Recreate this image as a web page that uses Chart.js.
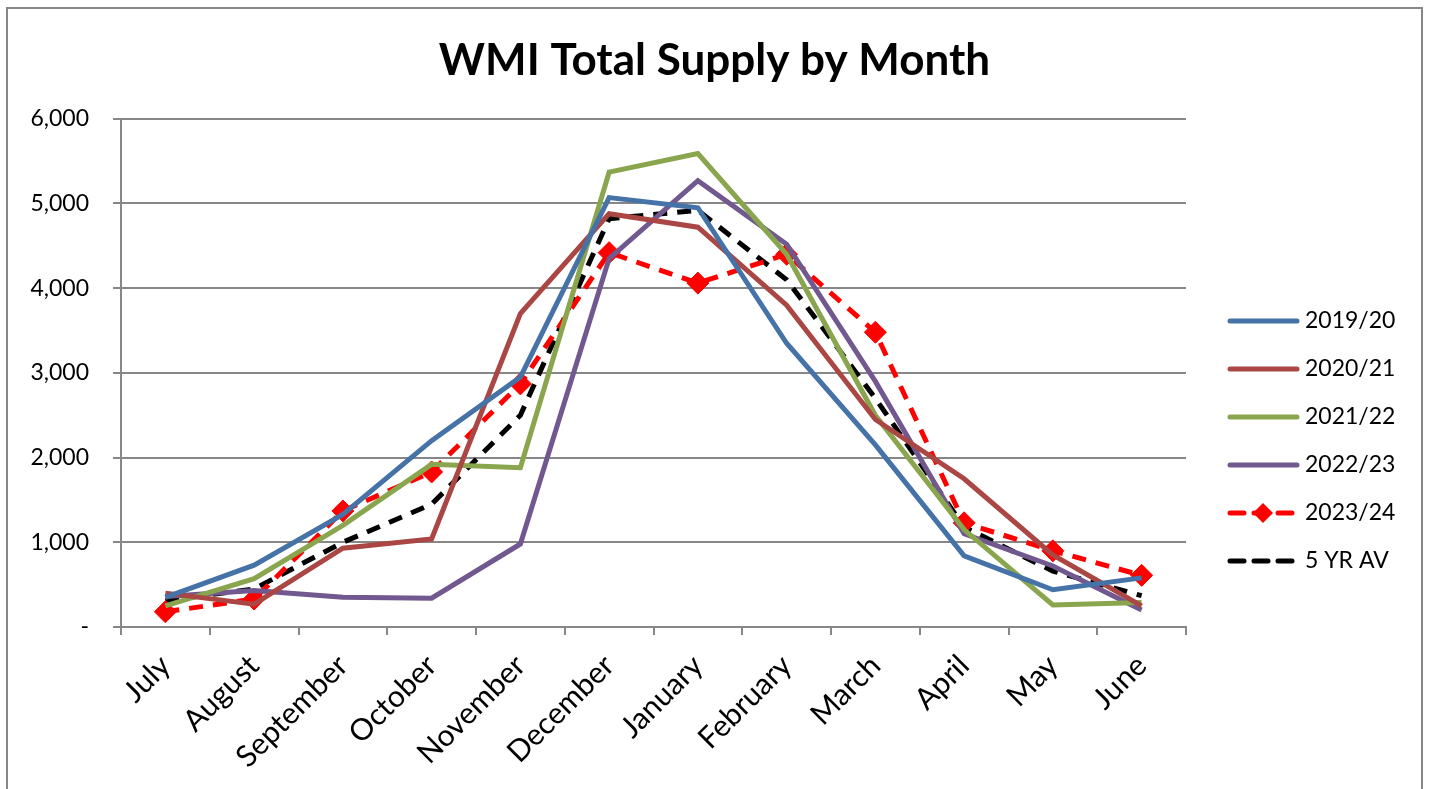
<!DOCTYPE html>
<html>
<head>
<meta charset="utf-8">
<script src="https://cdn.jsdelivr.net/npm/chart.js@4.4.0/dist/chart.umd.min.js"></script>
<style>
  body { margin: 0; background: #fff; }
  #wrap { width: 1429px; height: 789px; position: relative; }
</style>
</head>
<body>
<div id="wrap"><canvas id="supplyChart"></canvas></div>
<script>
// months along the x axis
const months = ['July', 'August', 'September', 'October', 'November', 'December',
                'January', 'February', 'March', 'April', 'May', 'June'];

// series
const s1920 = [350, 730, 1330, 2200, 2950, 5070, 4950, 3350, 2150, 840, 440, 580];
const s2021 = [400, 270, 930, 1040, 3700, 4880, 4720, 3800, 2450, 1750, 850, 250];
const s2122 = [250, 570, 1200, 1920, 1880, 5370, 5590, 4400, 2500, 1150, 260, 290];
const s2223 = [360, 430, 350, 340, 980, 4350, 5270, 4520, 2900, 1100, 720, 200];
const s2324 = [180, 330, 1370, 1830, 2870, 4420, 4060, 4400, 3480, 1230, 900, 610];
const fiveYr = [310, 450, 1000, 1450, 2500, 4820, 4920, 4100, 2700, 1180, 660, 370];

const yTicks = [0, 1000, 2000, 3000, 4000, 5000, 6000];

const FONT = "Lato, 'Open Sans', sans-serif";
const GRAY = '#878787';

// legend drawn by hand to match the excel look
const legendBox = {
  id: 'legendBox',
  afterDraw(chart) {
    const ctx = chart.ctx;
    const sets = chart.data.datasets;
    let y = 321;
    ctx.save();
    sets.forEach(ds => {
      ctx.lineWidth = ds.borderWidth;
      ctx.strokeStyle = ds.borderColor;
      ctx.lineCap = 'round';
      ctx.setLineDash(ds.borderDash || []);
      ctx.beginPath();
      ctx.moveTo(1230, y);
      ctx.lineTo(1297, y);
      ctx.stroke();
      ctx.setLineDash([]);
      if (ds.pointRadius > 0) {
        ctx.fillStyle = ds.pointBackgroundColor;
        ctx.beginPath();
        ctx.moveTo(1263, y - 10);
        ctx.lineTo(1273, y);
        ctx.lineTo(1263, y + 10);
        ctx.lineTo(1253, y);
        ctx.closePath();
        ctx.fill();
      }
      ctx.fillStyle = '#000';
      ctx.font = '23px ' + FONT;
      ctx.textBaseline = 'middle';
      ctx.textAlign = 'left';
      ctx.fillText(ds.label, 1305, y);
      y += 48;
    });
    ctx.restore();
  }
};

// outer frame
const frame = {
  id: 'frame',
  afterDraw(chart) {
    const ctx = chart.ctx;
    ctx.save();
    ctx.strokeStyle = GRAY;
    ctx.lineWidth = 2;
    ctx.strokeRect(7, 8, 1415, 800);
    ctx.restore();
  }
};

function line(label, data, color, dash) {
  return {
    label: label,
    data: data,
    borderColor: color,
    backgroundColor: color,
    borderWidth: 5,
    borderDash: dash || [],
    pointRadius: 0,
    pointHoverRadius: 0,
    tension: 0,
    fill: false
  };
}

const red = line('2023/24', s2324, '#FF0000', [14, 10]);
red.pointRadius = 11;
red.pointStyle = 'rectRot';
red.pointBackgroundColor = '#FF0000';
red.pointBorderColor = '#FF0000';
red.pointBorderWidth = 1;

const datasets = [
  line('2019/20', s1920, '#4572A7'),
  line('2020/21', s2021, '#AA4643'),
  line('2021/22', s2122, '#89A54E'),
  line('2022/23', s2223, '#71588F'),
  red,
  line('5 YR AV', fiveYr, '#000000', [14, 10])
];

Chart.defaults.font.family = FONT;
Chart.defaults.color = '#000';

new Chart(document.getElementById('supplyChart'), {
  type: 'line',
  data: { labels: months, datasets: datasets },
  plugins: [legendBox, frame],
  options: {
    responsive: true,
    maintainAspectRatio: false,
    animation: false,
    layout: { padding: 0 },
    plugins: {
      legend: { display: false },
      tooltip: { enabled: false },
      title: {
        display: true,
        text: 'WMI Total Supply by Month',
        font: { size: 44, weight: 'bold', family: FONT },
        color: '#000',
        padding: { top: 34, bottom: 32 }
      }
    },
    scales: {
      x: {
        offset: true,
        grid: { offset: true, drawOnChartArea: false, drawTicks: true, tickLength: 8, color: GRAY, lineWidth: 2 },
        border: { color: GRAY, width: 2 },
        ticks: { minRotation: 45, maxRotation: 45, padding: 13, font: { size: 30 }, color: '#000' },
        afterFit(scale) { scale.height = 162; }
      },
      y: {
        min: 0,
        max: 6000,
        afterBuildTicks(scale) { scale.ticks = yTicks.map(v => ({ value: v })); },
        grid: { color: GRAY, lineWidth: 2, tickLength: 8 },
        border: { color: GRAY, width: 2 },
        ticks: {
          padding: 24,
          font: { size: 23 },
          color: '#000',
          callback: v => v === 0 ? '-' : v.toLocaleString('en-US')
        },
        afterFit(scale) { scale.width = 121; }
      },
      // empty axis that keeps room for the legend on the right
      side: {
        position: 'right',
        display: true,
        grid: { display: false },
        border: { display: false },
        ticks: { display: false },
        afterFit(scale) { scale.width = 243; }
      }
    }
  }
});
</script>
</body>
</html>
